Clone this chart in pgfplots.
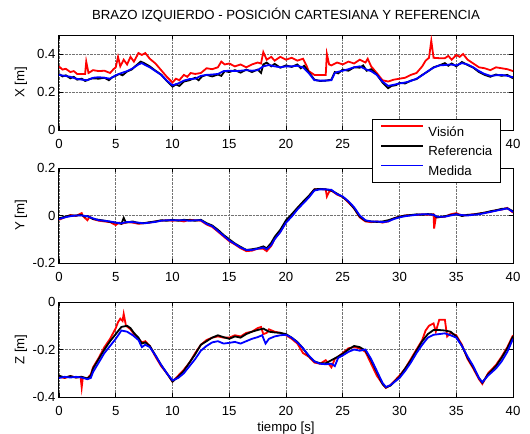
\documentclass[border=0pt]{standalone}
\usepackage{fontspec}
\setmainfont{Liberation Sans}
\usepackage{pgfplots}
\pgfplotsset{compat=1.18}
\newcommand{\fnt}{\fontsize{13.2bp}{15bp}\selectfont}
\definecolor{mred}{rgb}{1,0,0}
\definecolor{mblue}{rgb}{0,0,1}
\pgfplotsset{
  myax/.style={
    scale only axis, width=454bp, height=95bp,
    xmin=0, xmax=40,
    xtick={0,5,...,40},
    xticklabels={0,5,10,15,20,25,30,35,40},
    tick align=inside, major tick length=4bp,
    tick style={black, line width=0.6bp},
    axis line style={black, line width=1bp},
    grid=major,
    major grid style={densely dotted, black!55, line width=0.6bp},
    tick label style={font=\fnt},
    xticklabel style={anchor=base, yshift=-18bp},
    label style={font=\fnt},
    ylabel style={at={(axis description cs:-0.076,0.5)}, anchor=base},
    every axis plot/.append style={line width=1.8bp},
    clip=true,
  },
  cr/.style={draw=mred},
  ck/.style={draw=black},
  cb/.style={draw=mblue},
}
\begin{document}
\begin{tikzpicture}
\path[use as bounding box] (-59bp,35bp) rectangle (471bp,-399bp);
% ---------------- X ----------------
\begin{axis}[myax, at={(0,0)}, anchor=north west,
  ymin=0, ymax=0.5, ytick={0,0.2,0.4}, yticklabels={0,0.2,0.4},
  ylabel={X [m]},
  title={BRAZO IZQUIERDO - POSICIÓN CARTESIANA Y REFERENCIA},
  title style={font=\fnt, at={(axis description cs:0.5,1)}, anchor=base, yshift=10bp},
]
\addplot[cr] coordinates {
(0,0.335)(0.3,0.318)(0.6,0.322)(1,0.305)(1.3,0.310)(1.6,0.295)(2,0.295)(2.3,0.295)(2.4,0.360)(2.6,0.300)
(3,0.315)(3.5,0.310)(4,0.312)(4.5,0.300)(4.8,0.320)(5,0.330)(5.2,0.385)(5.4,0.335)(5.7,0.370)(6,0.345)
(6.3,0.385)(6.6,0.360)(7,0.405)(7.3,0.395)(7.6,0.405)(8,0.375)(8.5,0.350)(9,0.315)(9.5,0.280)(10,0.250)
(10.3,0.270)(10.6,0.262)(11,0.290)(11.3,0.280)(11.6,0.300)(12,0.295)(12.5,0.300)(13,0.325)(13.5,0.320)
(14,0.330)(14.3,0.360)(14.6,0.345)(15,0.350)(15.5,0.335)(16,0.345)(16.5,0.330)(17,0.345)(17.5,0.355)
(17.8,0.350)(18,0.410)(18.3,0.370)(18.7,0.385)(19,0.365)(19.5,0.385)(20,0.370)(20.5,0.380)(21,0.365)
(21.5,0.375)(21.8,0.340)(22,0.310)(22.5,0.290)(23,0.290)(23.5,0.290)(23.6,0.400)(23.8,0.345)(24,0.340)
(24.5,0.355)(25,0.345)(25.5,0.360)(26,0.350)(26.5,0.370)(27,0.355)(27.2,0.375)(27.5,0.335)(28,0.300)
(28.5,0.262)(29,0.255)(29.5,0.265)(30,0.270)(30.5,0.275)(31,0.290)(31.5,0.300)(32,0.335)(32.3,0.365)
(32.6,0.380)(32.8,0.470)(33,0.380)(33.5,0.378)(34,0.378)(34.3,0.390)(34.6,0.370)(35,0.395)(35.3,0.385)
(35.6,0.400)(36,0.370)(36.5,0.350)(37,0.330)(37.5,0.325)(38,0.315)(38.5,0.330)(39,0.325)(39.5,0.320)(40,0.310)
};
\addplot[ck] coordinates {
(0,0.295)(0.3,0.282)(0.6,0.288)(1,0.272)(1.3,0.280)(1.6,0.265)(2,0.270)(2.3,0.258)(2.7,0.268)(3,0.272)
(3.5,0.270)(4,0.275)(4.4,0.262)(4.7,0.278)(5,0.285)(5.3,0.295)(5.6,0.288)(6,0.308)(6.4,0.318)(6.8,0.340)
(7.2,0.360)(7.5,0.352)(8,0.335)(8.5,0.312)(9,0.292)(9.5,0.258)(10,0.228)(10.3,0.240)(10.6,0.232)(11,0.255)
(11.5,0.262)(12,0.275)(12.3,0.262)(12.6,0.282)(13,0.290)(13.5,0.282)(14,0.292)(14.3,0.285)(14.6,0.310)
(15,0.305)(15.5,0.315)(16,0.302)(16.5,0.318)(17,0.305)(17.5,0.318)(17.8,0.300)(18,0.345)(18.3,0.355)
(18.7,0.335)(19,0.348)(19.5,0.328)(20,0.340)(20.5,0.332)(21,0.345)(21.3,0.325)(21.6,0.338)(22,0.305)
(22.5,0.265)(23,0.258)(23.5,0.260)(24,0.265)(24.3,0.305)(24.6,0.298)(25,0.318)(25.5,0.312)(26,0.330)
(26.5,0.328)(26.8,0.340)(27.1,0.312)(27.5,0.320)(28,0.292)(28.5,0.250)(29,0.220)(29.3,0.232)(29.7,0.236)
(30,0.248)(30.5,0.245)(31,0.260)(31.5,0.268)(32,0.290)(32.5,0.308)(33,0.330)(33.5,0.340)(34,0.352)
(34.3,0.338)(34.6,0.350)(35,0.335)(35.5,0.358)(36,0.342)(36.5,0.328)(37,0.305)(37.5,0.290)(38,0.280)
(38.5,0.292)(39,0.285)(39.5,0.290)(40,0.272)
};
\addplot[cb] coordinates {
(0,0.290)(0.5,0.285)(1,0.280)(1.5,0.270)(2,0.265)(2.5,0.262)(3,0.275)(3.5,0.278)(4,0.275)(4.5,0.270)
(5,0.288)(5.5,0.300)(6,0.310)(6.5,0.325)(7,0.345)(7.3,0.352)(7.5,0.345)(8,0.330)(8.5,0.310)(9,0.290)
(9.5,0.260)(10,0.235)(10.5,0.245)(11,0.260)(11.5,0.268)(12,0.270)(12.5,0.285)(13,0.290)(13.5,0.292)
(14,0.295)(14.5,0.310)(15,0.312)(15.5,0.310)(16,0.312)(16.5,0.315)(17,0.312)(17.5,0.315)(18,0.335)
(18.5,0.342)(19,0.335)(19.5,0.330)(20,0.335)(20.5,0.335)(21,0.338)(21.5,0.330)(22,0.300)(22.5,0.262)
(23,0.260)(23.5,0.260)(24,0.262)(24.3,0.300)(24.5,0.305)(25,0.312)(25.5,0.320)(26,0.330)(26.5,0.335)
(27,0.320)(27.5,0.310)(28,0.290)(28.5,0.255)(29,0.232)(29.5,0.238)(30,0.245)(30.5,0.250)(31,0.258)
(31.5,0.270)(32,0.288)(32.5,0.310)(33,0.328)(33.5,0.340)(34,0.342)(34.5,0.345)(35,0.340)(35.5,0.352)
(36,0.345)(36.5,0.330)(37,0.310)(37.5,0.295)(38,0.285)(38.5,0.288)(39,0.290)(39.5,0.285)(40,0.278)
};
\end{axis}
% ---------------- Y ----------------
\begin{axis}[myax, at={(0,-133bp)}, anchor=north west,
  ymin=-0.2, ymax=0.2, ytick={-0.2,0,0.2}, yticklabels={-0.2,0,0.2},
  ylabel={Y [m]},
]
\addplot[cr] coordinates {
(0,-0.018)(0.5,-0.008)(1,0.002)(1.5,-0.002)(2,0.010)(2.1,-0.002)(2.5,-0.020)(2.7,-0.005)(3,-0.015)
(3.5,-0.022)(4,-0.025)(4.5,-0.028)(5,-0.040)(5.3,-0.030)(5.5,-0.035)(6,-0.028)(6.5,-0.030)(7,-0.035)
(7.5,-0.032)(8,-0.030)(8.5,-0.025)(9,-0.022)(9.5,-0.020)(10,-0.022)(10.5,-0.020)(11,-0.025)(11.5,-0.018)
(12,-0.020)(12.5,-0.022)(13,-0.038)(13.5,-0.048)(14,-0.068)(14.5,-0.088)(15,-0.108)(15.5,-0.122)
(16,-0.138)(16.5,-0.150)(17,-0.148)(17.5,-0.140)(18,-0.140)(18.3,-0.150)(18.7,-0.128)(19,-0.098)
(19.5,-0.068)(20,-0.028)(20.5,0.000)(21,0.030)(21.5,0.055)(22,0.080)(22.5,0.110)(23,0.112)(23.5,0.110)
(23.6,0.080)(23.8,0.100)(24,0.105)(24.5,0.088)(25,0.078)(25.5,0.055)(26,0.030)(26.5,-0.008)(27,-0.025)
(27.5,-0.028)(28,-0.025)(28.5,-0.030)(29,-0.025)(29.5,-0.012)(30,-0.005)(30.5,0.000)(31,0.002)(31.5,0.002)
(32,0.005)(32.5,0.003)(33,0.005)(33.05,-0.055)(33.2,-0.008)(34,-0.005)(34.5,0.005)(35,0.010)(35.5,0.000)
(36,0.002)(36.5,0.005)(37,0.008)(37.5,0.012)(38,0.015)(38.5,0.022)(39,0.025)(39.5,0.032)(40,0.012)
};
\addplot[ck] coordinates {
(0,-0.012)(0.5,-0.005)(1,0.000)(1.5,0.000)(2,0.002)(2.3,-0.005)(2.5,-0.002)(3,-0.015)(3.5,-0.018)
(4,-0.022)(4.5,-0.027)(5,-0.030)(5.5,-0.035)(5.7,-0.010)(5.9,-0.030)(6.5,-0.025)(7,-0.032)(7.5,-0.032)
(8,-0.028)(8.5,-0.025)(9,-0.020)(9.5,-0.022)(10,-0.018)(10.5,-0.022)(11,-0.018)(11.5,-0.020)(12,-0.022)
(12.5,-0.018)(13,-0.032)(13.5,-0.042)(14,-0.060)(14.5,-0.082)(15,-0.100)(15.5,-0.118)(16,-0.132)
(16.5,-0.145)(17,-0.142)(17.5,-0.138)(18,-0.130)(18.3,-0.138)(18.7,-0.115)(19,-0.090)(19.5,-0.060)
(20,-0.020)(20.5,0.005)(21,0.032)(21.5,0.058)(22,0.082)(22.5,0.110)(23,0.112)(23.5,0.110)(24,0.105)
(24.5,0.092)(25,0.078)(25.5,0.058)(26,0.030)(26.5,-0.005)(27,-0.022)(27.5,-0.025)(28,-0.027)(28.5,-0.025)
(29,-0.020)(29.5,-0.012)(30,-0.005)(30.5,0.000)(31,0.002)(31.5,0.005)(32,0.003)(32.5,0.006)(33,0.004)
(33.3,-0.008)(34,-0.003)(34.5,0.002)(35,0.006)(35.5,-0.002)(36,0.003)(36.5,0.004)(37,0.008)(37.5,0.012)
(38,0.018)(38.5,0.022)(39,0.028)(39.5,0.030)(40,0.018)
};
\addplot[cb] coordinates {
(0,-0.015)(0.5,-0.008)(1,-0.003)(1.5,0.000)(2,0.000)(2.5,-0.003)(3,-0.012)(3.5,-0.020)(4,-0.022)
(4.5,-0.025)(5,-0.030)(5.5,-0.033)(6,-0.027)(6.5,-0.028)(7,-0.030)(7.5,-0.033)(8,-0.030)(8.5,-0.027)
(9,-0.022)(9.5,-0.020)(10,-0.020)(10.5,-0.020)(11,-0.020)(11.5,-0.022)(12,-0.020)(12.5,-0.020)
(13,-0.035)(13.5,-0.045)(14,-0.065)(14.5,-0.085)(15,-0.105)(15.5,-0.120)(16,-0.135)(16.5,-0.145)
(17,-0.145)(17.5,-0.140)(18,-0.135)(18.3,-0.142)(18.7,-0.125)(19,-0.100)(19.5,-0.070)(20,-0.030)
(20.5,-0.005)(21,0.025)(21.5,0.050)(22,0.075)(22.5,0.105)(23,0.110)(23.5,0.110)(24,0.108)(24.5,0.090)
(25,0.080)(25.5,0.060)(26,0.035)(26.5,0.000)(27,-0.020)(27.5,-0.025)(28,-0.025)(28.5,-0.028)(29,-0.025)
(29.5,-0.015)(30,-0.008)(30.5,-0.003)(31,0.000)(31.5,0.003)(32,0.005)(32.5,0.005)(33,0.003)(33.3,-0.005)
(34,-0.005)(34.5,0.000)(35,0.005)(35.5,0.002)(36,0.000)(36.5,0.003)(37,0.005)(37.5,0.010)(38,0.015)
(38.5,0.020)(39,0.025)(39.5,0.030)(40,0.015)
};
\end{axis}
% ---------------- Z ----------------
\begin{axis}[myax, at={(0,-267bp)}, anchor=north west,
  ymin=-0.4, ymax=0, ytick={-0.4,-0.2,0}, yticklabels={-0.4,-0.2,0},
  ylabel={Z [m]},
  xlabel={tiempo [s]},
  xlabel style={at={(axis description cs:0.5,0)}, anchor=base, yshift=-34bp},
  legend style={at={(axis description cs:0.690,2.923)}, anchor=north west,
    font=\fnt, draw=black, line width=1bp, fill=white,
    inner xsep=7.5bp, inner ysep=5.5bp, row sep=7.2bp, column sep=3.4bp,
    nodes={inner sep=1bp, text height=9.5bp, text depth=0.5bp}},
  legend cell align=left,
  legend image code/.code={\draw[#1, line width=1.8bp] (0bp,5.5bp) -- (42bp,5.5bp);},
]
\addplot[cr] coordinates {
(0,-0.315)(0.5,-0.320)(1,-0.312)(1.5,-0.318)(1.9,-0.315)(2,-0.360)(2.1,-0.318)(2.5,-0.322)(2.8,-0.305)
(3,-0.275)(3.5,-0.235)(4,-0.190)(4.5,-0.155)(5,-0.110)(5.2,-0.085)(5.4,-0.070)(5.6,-0.080)(5.7,-0.050)
(5.9,-0.100)(6.3,-0.115)(6.6,-0.135)(7,-0.155)(7.3,-0.170)(7.6,-0.165)(8,-0.185)(8.5,-0.230)(9,-0.270)
(9.5,-0.300)(10,-0.335)(10.5,-0.310)(11,-0.285)(11.5,-0.255)(12,-0.215)(12.5,-0.180)(13,-0.160)
(13.5,-0.150)(14,-0.145)(14.5,-0.150)(15,-0.150)(15.5,-0.140)(16,-0.145)(16.5,-0.130)(17,-0.125)
(17.5,-0.110)(17.8,-0.105)(18,-0.135)(18.3,-0.130)(18.5,-0.115)(19,-0.125)(19.5,-0.130)(20,-0.140)
(20.5,-0.155)(21,-0.175)(21.5,-0.215)(22,-0.230)(22.5,-0.255)(23,-0.260)(23.5,-0.245)(24,-0.275)
(24.3,-0.240)(24.6,-0.230)(25,-0.215)(25.5,-0.195)(26,-0.190)(26.5,-0.195)(27,-0.210)(27.5,-0.260)
(28,-0.310)(28.5,-0.345)(28.8,-0.362)(29.2,-0.350)(30,-0.310)(30.5,-0.280)(31,-0.240)(31.5,-0.200)
(32,-0.160)(32.3,-0.120)(32.6,-0.100)(33,-0.090)(33.2,-0.125)(33.5,-0.075)(34,-0.075)(34.2,-0.145)
(34.5,-0.130)(35,-0.140)(35.5,-0.180)(36,-0.240)(36.5,-0.280)(37,-0.325)(37.3,-0.345)(37.8,-0.300)
(38.5,-0.265)(39,-0.230)(39.5,-0.190)(40,-0.140)
};
\addlegendentry{Visión}
\addplot[ck] coordinates {
(0,-0.310)(0.5,-0.318)(1,-0.312)(1.5,-0.318)(2,-0.315)(2.5,-0.322)(2.8,-0.310)(3,-0.280)(3.5,-0.240)
(4,-0.200)(4.5,-0.165)(5,-0.135)(5.5,-0.105)(6,-0.100)(6.3,-0.110)(6.6,-0.130)(7,-0.150)(7.3,-0.175)
(7.6,-0.170)(8,-0.185)(8.5,-0.225)(9,-0.265)(9.5,-0.300)(10,-0.335)(10.5,-0.315)(11,-0.290)(11.5,-0.255)
(12,-0.220)(12.5,-0.180)(13,-0.165)(13.5,-0.150)(14,-0.140)(14.5,-0.148)(15,-0.155)(15.5,-0.145)
(16,-0.150)(16.5,-0.135)(17,-0.125)(17.5,-0.118)(18,-0.112)(18.5,-0.125)(19,-0.128)(19.5,-0.130)
(20,-0.135)(20.5,-0.150)(21,-0.168)(21.5,-0.195)(22,-0.228)(22.5,-0.250)(23,-0.258)(23.5,-0.258)
(24,-0.245)(24.5,-0.232)(25,-0.218)(25.5,-0.200)(26,-0.185)(26.5,-0.190)(27,-0.205)(27.5,-0.245)
(28,-0.295)(28.5,-0.345)(28.8,-0.360)(29.2,-0.352)(30,-0.315)(30.5,-0.280)(31,-0.245)(31.5,-0.205)
(32,-0.165)(32.5,-0.135)(33,-0.118)(33.5,-0.118)(34,-0.120)(34.5,-0.125)(35,-0.145)(35.5,-0.185)
(36,-0.235)(36.5,-0.275)(37,-0.320)(37.3,-0.340)(37.8,-0.305)(38.5,-0.270)(39,-0.235)(39.5,-0.195)(40,-0.145)
};
\addlegendentry{Referencia}
\addplot[cb] coordinates {
(0,-0.320)(0.5,-0.315)(1,-0.318)(1.5,-0.315)(2,-0.318)(2.5,-0.325)(2.8,-0.320)(3,-0.295)(3.5,-0.255)
(4,-0.215)(4.5,-0.185)(5,-0.155)(5.5,-0.120)(6,-0.125)(6.5,-0.140)(7,-0.160)(7.3,-0.190)(7.6,-0.180)
(8,-0.190)(8.5,-0.225)(9,-0.265)(9.5,-0.300)(10,-0.330)(10.5,-0.320)(11,-0.300)(11.5,-0.270)(12,-0.240)
(12.5,-0.205)(13,-0.185)(13.5,-0.170)(14,-0.165)(14.5,-0.175)(15,-0.172)(15.5,-0.168)(16,-0.175)
(16.5,-0.165)(17,-0.155)(17.5,-0.148)(17.9,-0.140)(18.2,-0.175)(18.5,-0.155)(19,-0.145)(19.5,-0.140)
(20,-0.138)(20.5,-0.150)(21,-0.170)(21.5,-0.195)(22,-0.225)(22.5,-0.250)(23,-0.260)(23.5,-0.262)
(24,-0.260)(24.3,-0.270)(24.6,-0.235)(25,-0.225)(25.5,-0.210)(26,-0.200)(26.5,-0.205)(27,-0.200)
(27.5,-0.240)(28,-0.290)(28.5,-0.340)(28.8,-0.358)(29.2,-0.350)(30,-0.320)(30.5,-0.290)(31,-0.255)
(31.5,-0.215)(32,-0.180)(32.5,-0.150)(33,-0.138)(33.5,-0.135)(34,-0.132)(34.5,-0.140)(35,-0.150)
(35.5,-0.185)(36,-0.230)(36.5,-0.270)(37,-0.320)(37.3,-0.338)(37.8,-0.310)(38.5,-0.280)(39,-0.250)
(39.5,-0.210)(40,-0.155)
};
\addlegendentry{Medida}
\end{axis}
\end{tikzpicture}
\end{document}
